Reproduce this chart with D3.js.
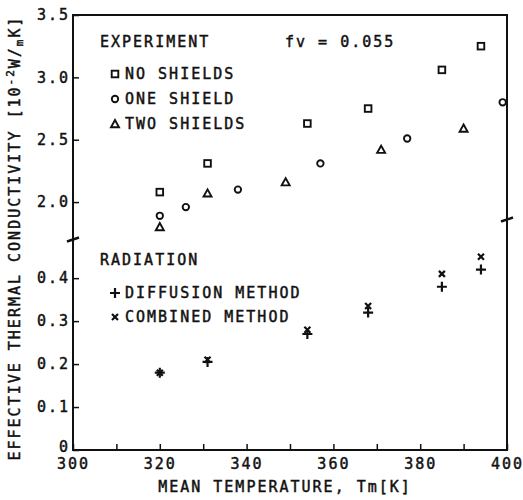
<!DOCTYPE html>
<html>
<head>
<meta charset="utf-8">
<script src="https://cdn.jsdelivr.net/npm/d3@7"></script>
<style>
  body { margin: 0; background: #fff; }
  text { font-family: "DejaVu Sans Mono", monospace; font-size: 15px; letter-spacing: 2px; fill: #111; stroke: #111; stroke-width: 0.45px; }
</style>
</head>
<body>
<div class="container"></div>
<script>
// data
const noShieldT = [320, 331, 354, 368, 385, 394]
const noShieldK = [2.08, 2.31, 2.63, 2.75, 3.06, 3.25]
const oneShieldT = [320, 326, 338, 357, 377, 399]
const oneShieldK = [1.89, 1.96, 2.10, 2.31, 2.51, 2.80]
const twoShieldT = [320, 331, 349, 371, 390]
const twoShieldK = [1.80, 2.07, 2.16, 2.42, 2.59]
const diffusionT = [320, 331, 354, 368, 385, 394]
const diffusionK = [0.18, 0.205, 0.27, 0.32, 0.38, 0.42]
const combinedT = [320, 331, 354, 368, 385, 394]
const combinedK = [0.18, 0.21, 0.28, 0.335, 0.41, 0.45]

const xTicks = [300, 310, 320, 330, 340, 350, 360, 370, 380, 390, 400]
const lowTicks = [0, 0.1, 0.2, 0.3, 0.4]
const lowLabels = ["0", "0.1", "0.2", "0.3", "0.4"]
const upTicks = [2.0, 2.5, 3.0, 3.5]
const upLabels = ["2.0", "2.5", "3.0", "3.5"]

const w = 523
const h = 500
const padL = 73, padR = 507, padT = 15, padB = 450

const svg = d3.select('.container').append('svg')
  .attr('width', w).attr('height', h)

const x = d3.scaleLinear().domain([300, 400]).range([padL, padR])
// broken y axis: two linear segments
const yLow = d3.scaleLinear().domain([0, 0.49]).range([padB, 239.5])
const yUp = d3.scaleLinear().domain([1.7, 3.5]).range([239.5, padT])
const y = v => v < 1 ? yLow(v) : yUp(v)

// frame
svg.append('rect')
  .attr('x', padL).attr('y', padT)
  .attr('width', padR - padL).attr('height', padB - padT)
  .attr('fill', 'none').attr('stroke', '#111').attr('stroke-width', 2)

// x axis
const xAxis = d3.axisBottom(x)
  .tickValues(xTicks)
  .tickSize(-6)
  .tickPadding(8)
  .tickFormat(d => d % 20 === 0 ? d : '')

const gx = svg.append('g')
  .attr('transform', 'translate(0,' + padB + ')')
  .call(xAxis)
gx.select('.domain').remove()
gx.selectAll('line').attr('stroke', '#111').attr('stroke-width', 1.5)
gx.selectAll('text').style('font-size', '15px').attr('fill', '#111')

// y axes
const drawY = (scale, ticks, labels) => {
  const g = svg.append('g')
    .attr('transform', 'translate(' + padL + ',0)')
    .call(d3.axisLeft(scale)
      .tickValues(ticks)
      .tickSize(-6)
      .tickPadding(3)
      .tickFormat((d, i) => labels[i]))
  g.select('.domain').remove()
  g.selectAll('line').attr('stroke', '#111').attr('stroke-width', 1.5)
  g.selectAll('text').style('font-size', '15px').attr('fill', '#111')
  return g
}
drawY(yLow, lowTicks, lowLabels)
  .selectAll('text').attr('dy', (d) => d === 0 ? '0.1em' : '0.32em')
drawY(yUp, upTicks, upLabels)

// axis break marks
const breaks = [{xv: 300, yv: 1.7}, {xv: 400, yv: 1.86}]
svg.append('g').selectAll('path')
  .data(breaks)
  .enter()
  .append('path')
  .attr('d', d => {
    const cx = x(d.xv), cy = yUp(d.yv)
    return 'M' + (cx - 6) + ',' + (cy + 2) + 'L' + (cx + 6) + ',' + (cy - 2)
  })
  .attr('stroke', '#111').attr('stroke-width', 2.5).attr('fill', 'none')

// markers
const sym = {
  square: (g) => g.append('rect').attr('x', -3.3).attr('y', -3.3).attr('width', 6.6).attr('height', 6.6)
    .attr('fill', 'none').attr('stroke', '#111').attr('stroke-width', 1.9),
  circle: (g) => g.append('circle').attr('r', 3.2)
    .attr('fill', 'none').attr('stroke', '#111').attr('stroke-width', 1.9),
  triangle: (g) => g.append('path').attr('d', 'M0,-4L4,3.2L-4,3.2Z')
    .attr('fill', 'none').attr('stroke', '#111').attr('stroke-width', 1.9),
  plus: (g) => g.append('path').attr('d', 'M-5,0L5,0M0,-5L0,5')
    .attr('fill', 'none').attr('stroke', '#111').attr('stroke-width', 2.2),
  cross: (g) => g.append('path').attr('d', 'M-3,-3L3,3M-3,3L3,-3')
    .attr('fill', 'none').attr('stroke', '#111').attr('stroke-width', 2.2)
}

const series = [
  {t: noShieldT, k: noShieldK, s: 'square'},
  {t: oneShieldT, k: oneShieldK, s: 'circle'},
  {t: twoShieldT, k: twoShieldK, s: 'triangle'},
  {t: diffusionT, k: diffusionK, s: 'plus'},
  {t: combinedT, k: combinedK, s: 'cross'}
]

series.forEach(sr => {
  const pts = sr.t.map((t, i) => ({t: t, k: sr.k[i]}))
  svg.append('g').selectAll('g')
    .data(pts)
    .enter()
    .append('g')
    .attr('transform', d => 'translate(' + x(d.t) + ',' + y(d.k) + ')')
    .each(function() { sym[sr.s](d3.select(this)) })
})

// legend
const legend = svg.append('g').classed('legend', true)
legend.append('text').attr('x', 100).attr('y', 47).text('EXPERIMENT')
legend.append('text').attr('x', 285).attr('y', 47).text('fv = 0.055')

const legItems = [
  {s: 'square', label: 'NO SHIELDS', y: 79},
  {s: 'circle', label: 'ONE SHIELD', y: 104},
  {s: 'triangle', label: 'TWO SHIELDS', y: 129},
  {s: 'plus', label: 'DIFFUSION METHOD', y: 298},
  {s: 'cross', label: 'COMBINED METHOD', y: 322}
]
legItems.forEach(it => {
  const g = legend.append('g').attr('transform', 'translate(115,' + (it.y - 5) + ')')
  sym[it.s](g)
  legend.append('text').attr('x', 125).attr('y', it.y).text(it.label)
})
legend.append('text').attr('x', 100).attr('y', 265).text('RADIATION')

// axis titles
svg.append('text')
  .attr('x', 285).attr('y', 492)
  .attr('text-anchor', 'middle')
  .text('MEAN TEMPERATURE, Tm[K]')

const yl = svg.append('text')
  .attr('transform', 'translate(20,238) rotate(-90)')
  .attr('text-anchor', 'middle')
yl.append('tspan').text('EFFECTIVE THERMAL CONDUCTIVITY [10')
yl.append('tspan').attr('dy', -6).style('font-size', '11px').text('-2')
yl.append('tspan').attr('dy', 6).text('W/')
yl.append('tspan').attr('dy', 3).style('font-size', '11px').text('m')
yl.append('tspan').attr('dy', -3).text('K]')
</script>
</body>
</html>
